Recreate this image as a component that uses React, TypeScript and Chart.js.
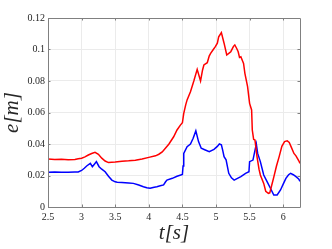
import React, { useEffect, useRef } from "react";
import { Chart, registerables } from "chart.js";

Chart.register(...registerables);

const redT = [2.5, 2.6, 2.7, 2.8, 2.9, 2.95, 3.0, 3.05, 3.1, 3.15, 3.2, 3.25, 3.3, 3.35, 3.4, 3.5, 3.6, 3.7, 3.8, 3.9, 4.0, 4.1, 4.15, 4.2, 4.25, 4.3, 4.37, 4.42, 4.47, 4.5, 4.52, 4.55, 4.57, 4.62, 4.67, 4.72, 4.77, 4.8, 4.82, 4.87, 4.9, 4.92, 4.96, 4.99, 5.02, 5.04, 5.08, 5.12, 5.16, 5.19, 5.22, 5.26, 5.28, 5.31, 5.33, 5.35, 5.37, 5.41, 5.43, 5.47, 5.5, 5.53, 5.54, 5.56, 5.58, 5.61, 5.64, 5.66, 5.71, 5.74, 5.78, 5.8, 5.83, 5.86, 5.9, 5.94, 5.98, 6.02, 6.06, 6.09, 6.12, 6.16, 6.19, 6.23, 6.25];
const redE = [0.0305, 0.0302, 0.0303, 0.03, 0.0302, 0.0306, 0.031, 0.0318, 0.033, 0.034, 0.0347, 0.0335, 0.031, 0.0292, 0.0282, 0.0285, 0.029, 0.0293, 0.0297, 0.0305, 0.0315, 0.0325, 0.0335, 0.035, 0.0375, 0.04, 0.0446, 0.0489, 0.052, 0.0535, 0.0595, 0.065, 0.068, 0.0732, 0.08, 0.0874, 0.08, 0.087, 0.0902, 0.0916, 0.096, 0.0976, 0.1, 0.1018, 0.104, 0.108, 0.1107, 0.104, 0.0965, 0.0975, 0.0986, 0.102, 0.1029, 0.1005, 0.0986, 0.095, 0.0954, 0.0912, 0.0849, 0.0764, 0.0658, 0.0616, 0.0489, 0.043, 0.0425, 0.032, 0.024, 0.0203, 0.015, 0.01, 0.0087, 0.009, 0.014, 0.019, 0.026, 0.032, 0.0385, 0.0415, 0.042, 0.041, 0.038, 0.034, 0.0325, 0.0295, 0.0277];

const blueT = [2.5, 2.6, 2.7, 2.8, 2.9, 2.95, 3.0, 3.04, 3.08, 3.13, 3.16, 3.19, 3.22, 3.26, 3.3, 3.35, 3.4, 3.45, 3.5, 3.53, 3.6, 3.7, 3.77, 3.85, 3.92, 3.97, 4.02, 4.08, 4.12, 4.17, 4.22, 4.25, 4.27, 4.35, 4.42, 4.5, 4.51, 4.52, 4.57, 4.62, 4.66, 4.7, 4.74, 4.78, 4.84, 4.9, 4.97, 5.02, 5.05, 5.08, 5.1, 5.12, 5.15, 5.19, 5.23, 5.27, 5.32, 5.37, 5.44, 5.49, 5.5, 5.55, 5.58, 5.6, 5.62, 5.66, 5.71, 5.76, 5.81, 5.86, 5.91, 5.96, 6.0, 6.04, 6.08, 6.11, 6.15, 6.19, 6.23, 6.25];
const blueE = [0.022, 0.0222, 0.0221, 0.022, 0.0222, 0.0222, 0.0232, 0.0246, 0.0262, 0.0277, 0.0256, 0.0272, 0.0288, 0.0256, 0.024, 0.0224, 0.0195, 0.0171, 0.016, 0.0157, 0.0155, 0.0153, 0.015, 0.014, 0.0129, 0.0122, 0.0119, 0.0126, 0.0129, 0.0135, 0.014, 0.016, 0.0171, 0.0182, 0.0195, 0.0207, 0.026, 0.034, 0.0383, 0.04, 0.0436, 0.0483, 0.0415, 0.0373, 0.0362, 0.0351, 0.0366, 0.0385, 0.04, 0.0395, 0.036, 0.032, 0.03, 0.0214, 0.0185, 0.0171, 0.0182, 0.0193, 0.0214, 0.0224, 0.0288, 0.0298, 0.036, 0.04, 0.034, 0.0288, 0.0203, 0.0161, 0.0119, 0.0076, 0.0076, 0.0108, 0.0145, 0.0182, 0.0205, 0.0214, 0.0205, 0.0193, 0.0178, 0.0163];

const xTicks = [2.5, 3, 3.5, 4, 4.5, 5, 5.5, 6];
const xTickLabels = ["2.5", "3", "3.5", "4", "4.5", "5", "5.5", "6"];
const yTicks = [0, 0.02, 0.04, 0.06, 0.08, 0.1, 0.12];
const yTickLabels = ["0", "0.02", "0.04", "0.06", "0.08", "0.1", "0.12"];
const xTitle = "t[s]";
const yTitle = "e[m]";

const boxPlugin = {
  id: "boxPlugin",
  afterDatasetsDraw(chart: any) {
    const { ctx, chartArea } = chart;
    const { left, right, top, bottom } = chartArea;
    ctx.save();
    ctx.strokeStyle = "#808080";
    ctx.lineWidth = 1;
    ctx.beginPath();
    ctx.rect(Math.round(left) + 0.5, Math.round(top) + 0.5, Math.round(right - left), Math.round(bottom - top));
    ctx.stroke();
    const xs = chart.scales.x;
    const ys = chart.scales.y;
    ctx.beginPath();
    for (const t of xTicks) {
      const px = Math.round(xs.getPixelForValue(t)) + 0.5;
      ctx.moveTo(px, bottom);
      ctx.lineTo(px, bottom - 2.5);
      ctx.moveTo(px, top);
      ctx.lineTo(px, top + 2.5);
    }
    for (const v of yTicks) {
      const py = Math.round(ys.getPixelForValue(v)) + 0.5;
      ctx.moveTo(left, py);
      ctx.lineTo(left + 2.5, py);
      ctx.moveTo(right, py);
      ctx.lineTo(right - 2.5, py);
    }
    ctx.stroke();
    ctx.restore();
  },
};

export default function App() {
  const ref = useRef<HTMLCanvasElement | null>(null);
  useEffect(() => {
    if (!ref.current) return;
    const chart = new Chart(ref.current, {
      type: "line",
      data: {
        datasets: [
          {
            label: "red",
            data: redT.map((t, i) => ({ x: t, y: redE[i] })),
            borderColor: "#ff0000",
            borderWidth: 1.5,
            pointRadius: 0,
            tension: 0,
            fill: false,
          },
          {
            label: "blue",
            data: blueT.map((t, i) => ({ x: t, y: blueE[i] })),
            borderColor: "#0000ff",
            borderWidth: 1.5,
            pointRadius: 0,
            tension: 0,
            fill: false,
          },
        ],
      },
      options: {
        animation: false,
        responsive: false,
        maintainAspectRatio: false,
        layout: { padding: { left: 0, right: 32, top: 18, bottom: 0 } },
        plugins: { legend: { display: false }, tooltip: { enabled: false } },
        scales: {
          x: {
            type: "linear",
            min: 2.5,
            max: 6.25,
            afterBuildTicks: (s: any) => {
              s.ticks = xTicks.map((v) => ({ value: v }));
            },
            afterFit: (s: any) => {
              s.height = 42;
            },
            ticks: {
              autoSkip: false,
              maxRotation: 0,
              padding: 4,
              color: "#262626",
              font: { family: "Liberation Serif", size: 10 },
              callback: (_v: any, i: number) => xTickLabels[i],
            },
            grid: { color: "#ebebeb", lineWidth: 1, drawTicks: false },
            border: { display: false },
            title: {
              display: true,
              text: xTitle,
              color: "#262626",
              font: { family: "Liberation Serif", size: 21, style: "italic" },
              padding: { top: 0, bottom: 3 },
            },
          },
          y: {
            type: "linear",
            min: 0,
            max: 0.12,
            afterBuildTicks: (s: any) => {
              s.ticks = yTicks.map((v) => ({ value: v }));
            },
            afterFit: (s: any) => {
              s.width = 48;
            },
            ticks: {
              autoSkip: false,
              padding: 3,
              color: "#262626",
              font: { family: "Liberation Serif", size: 10 },
              callback: (_v: any, i: number) => yTickLabels[i],
            },
            grid: { color: "#ebebeb", lineWidth: 1, drawTicks: false },
            border: { display: false },
            title: {
              display: true,
              text: yTitle,
              color: "#262626",
              font: { family: "Liberation Serif", size: 21, style: "italic" },
              padding: { top: 0, bottom: 0 },
            },
          },
        },
      },
      plugins: [boxPlugin],
    });
    return () => chart.destroy();
  }, []);
  return (
    <div style={{ position: "fixed", left: 0, top: 0, width: 332, height: 249, background: "#ffffff" }}>
      <canvas ref={ref} width={332} height={249} style={{ width: 332, height: 249, display: "block" }} />
    </div>
  );
}
